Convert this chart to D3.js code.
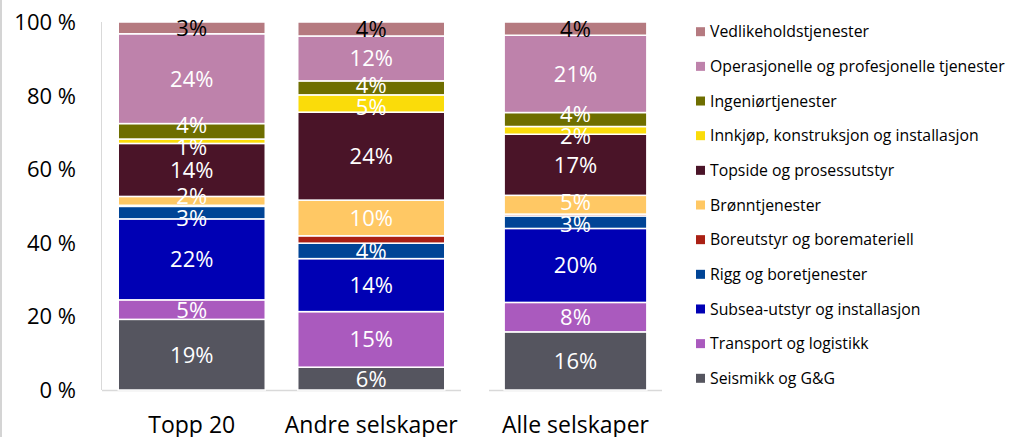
<!DOCTYPE html>
<html>
  <head>
    <meta charset="utf-8">
    <title>Leverandørkategorier</title>
    <style>
      body { margin: 0; background: #fff; }
      svg { display: block; font-family: 'Open Sans', sans-serif; }
      .tick-label { font-size: 22px; fill: #000; }
      .cat-label { font-size: 23px; fill: #000; }
      .seg-label { font-size: 22px; }
      .legend text { font-size: 15.8px; fill: #000; }
    </style>
  </head>
  <body>
    <div id="chart"></div>
    <script src="https://cdn.jsdelivr.net/npm/d3@7/dist/d3.min.js"></script>
    <script>
      // series, bottom to top
      var series = [
        'Seismikk og G&G',
        'Transport og logistikk',
        'Subsea-utstyr og installasjon',
        'Rigg og boretjenester',
        'Boreutstyr og boremateriell',
        'Brønntjenester',
        'Topside og prosessutstyr',
        'Innkjøp, konstruksjon og installasjon',
        'Ingeniørtjenester',
        'Operasjonelle og profesjonelle tjenester',
        'Vedlikeholdstjenester'
      ];
      var colors = ['#55555f', '#aa5abe', '#0000b4', '#004496', '#aa2014', '#ffc864',
                    '#4a1428', '#fadc0a', '#6e6e00', '#be82ab', '#b57a80'];

      var categories = ['Topp 20', 'Andre selskaper', 'Alle selskaper'];
      // share in percent, same order as series
      var topp20 = [19.2, 5.3, 22.0, 3.4, 0.3, 2.4, 14.4, 1.2, 4.2, 24.4, 3.2];
      var andre  = [6.2, 15.1, 14.4, 4.2, 2.0, 9.7, 23.9, 4.7, 3.8, 12.2, 3.8];
      var alle   = [15.8, 8.0, 20.1, 3.4, 0.5, 5.1, 16.6, 2.1, 3.8, 21.0, 3.6];

      var yTicks = [0, 20, 40, 60, 80, 100];
      var unlabeled = ['Boreutstyr og boremateriell'];
      var darkLabel = ['Vedlikeholdstjenester'];

      var width = 1017, height = 437;
      var plotTop = 22, plotBottom = 390;

      var rows = [topp20, andre, alle].map(function(vals, i) {
        var r = { cat: categories[i] };
        series.forEach(function(s, j) { r[s] = vals[j]; });
        return r;
      });

      var stack = d3.stack().keys(series);
      var layers = stack(rows);

      var svg = d3.select('#chart').append('svg')
        .attr('width', width)
        .attr('height', height);

      // frame edge on the left
      svg.append('rect').attr('x', 0).attr('y', 0).attr('width', 2).attr('height', height).attr('fill', '#d4d4d4');

      var y = d3.scaleLinear().domain([0, 100]).range([plotBottom, plotTop]);
      var color = d3.scaleOrdinal().domain(series).range(colors);

      // the picture is two charts side by side
      var x1 = d3.scaleBand().domain(categories.slice(0, 2)).range([102, 461]).paddingInner(0.181).paddingOuter(0.0905);
      var x2 = d3.scaleBand().domain(categories.slice(2)).range([489, 662]).paddingInner(0.175).paddingOuter(0.0875);
      function xs(c) { return x1.domain().indexOf(c) >= 0 ? x1 : x2; }

      // axes
      svg.append('line').attr('x1', 101.5).attr('x2', 101.5).attr('y1', y(100)).attr('y2', plotBottom)
        .attr('stroke', '#d9d9d9').attr('stroke-width', 1);
      [x1, x2].forEach(function(sc) {
        svg.append('line').attr('x1', sc.range()[0]).attr('x2', sc.range()[1])
          .attr('y1', plotBottom + 0.5).attr('y2', plotBottom + 0.5)
          .attr('stroke', '#d9d9d9').attr('stroke-width', 1.5);
      });

      svg.selectAll('.tick-label').data(yTicks).enter().append('text')
        .attr('class', 'tick-label')
        .attr('x', 76)
        .attr('y', function(d) { return y(d); })
        .attr('dy', '0.36em')
        .attr('text-anchor', 'end')
        .text(function(d) { return d + ' %'; });

      svg.selectAll('.cat-label').data(categories).enter().append('text')
        .attr('class', 'cat-label')
        .attr('x', function(d) { var s = xs(d); return s(d) + s.bandwidth() / 2; })
        .attr('y', 433)
        .attr('text-anchor', 'middle')
        .text(function(d) { return d; });

      // bars
      var layer = svg.selectAll('.layer').data(layers).enter().append('g')
        .attr('class', 'layer')
        .attr('fill', function(d) { return color(d.key); });

      layer.selectAll('rect').data(function(d) { return d; }).enter().append('rect')
        .attr('x', function(d) { var s = xs(d.data.cat); return s(d.data.cat); })
        .attr('width', function(d) { return xs(d.data.cat).bandwidth(); })
        .attr('y', function(d) { return y(d[1]); })
        .attr('height', function(d) { return Math.max(0, y(d[0]) - y(d[1])); })
        .attr('stroke', '#fff')
        .attr('stroke-width', 1.5);

      // data labels, nudged apart when too close
      var minGap = 22;
      categories.forEach(function(cat, ci) {
        var labs = [];
        layers.forEach(function(l) {
          if (unlabeled.indexOf(l.key) >= 0) return;
          var d = l[ci];
          labs.push({ key: l.key, v: d[1] - d[0], y: (y(d[0]) + y(d[1])) / 2 });
        });
        labs.sort(function(a, b) { return a.y - b.y; });
        for (var it = 0; it < 60; it++) {
          for (var i = 0; i < labs.length - 1; i++) {
            var gap = labs[i + 1].y - labs[i].y;
            if (gap < minGap) {
              var p = (minGap - gap) / 2;
              labs[i].y -= p;
              labs[i + 1].y += p;
            }
          }
        }
        var s = xs(cat);
        svg.selectAll('.lab' + ci).data(labs).enter().append('text')
          .attr('class', 'seg-label')
          .attr('x', s(cat) + s.bandwidth() / 2)
          .attr('y', function(d) { return d.y; })
          .attr('dy', '0.36em')
          .attr('text-anchor', 'middle')
          .attr('fill', function(d) { return darkLabel.indexOf(d.key) >= 0 ? '#000' : '#fff'; })
          .text(function(d) { return Math.round(d.v) + '%'; });
      });

      // legend, top entry first
      var legendItems = series.slice().reverse();
      var legend = svg.selectAll('.legend').data(legendItems).enter().append('g')
        .attr('class', 'legend')
        .attr('transform', function(d, i) { return 'translate(696,' + (31.7 + i * 34.66) + ')'; });

      legend.append('rect')
        .attr('x', 0).attr('y', -4.5)
        .attr('width', 9).attr('height', 9)
        .attr('fill', color);

      legend.append('text')
        .attr('x', 14)
        .attr('dy', '0.36em')
        .text(function(d) { return d; });
    </script>
  </body>
</html>
